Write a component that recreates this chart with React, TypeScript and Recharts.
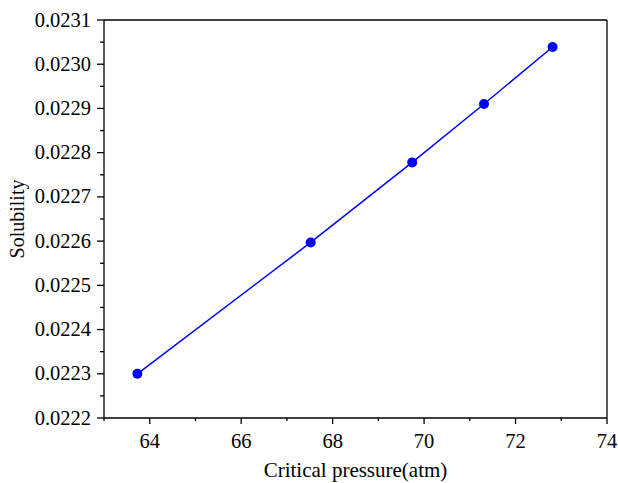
import {
  LineChart,
  Line,
  XAxis,
  YAxis,
  ReferenceLine,
} from 'recharts';

// critical pressure (atm) vs solubility
const pressure = [63.73, 67.52, 69.74, 71.31, 72.81];
const solubility = [0.0223, 0.022597, 0.022778, 0.02291, 0.023039];

const xTicks = [63, 64, 65, 66, 67, 68, 69, 70, 71, 72, 73, 74];
const xLabelTicks = [64, 66, 68, 70, 72, 74];
const yTicks = [
  0.0222, 0.02225, 0.0223, 0.02235, 0.0224, 0.02245, 0.0225, 0.02255, 0.0226, 0.02265,
  0.0227, 0.02275, 0.0228, 0.02285, 0.0229, 0.02295, 0.023, 0.02305, 0.0231,
];
const yLabelTicks = [
  '0.0222', '0.0223', '0.0224', '0.0225', '0.0226', '0.0227', '0.0228', '0.0229', '0.0230', '0.0231',
];

const data = pressure.map((p, i) => ({ p, s: solubility[i] }));

const FONT = "'Liberation Serif', 'Times New Roman', serif";

const XTick = (props: any) => {
  const { x, y, payload } = props;
  const major = xLabelTicks.includes(payload.value);
  return (
    <g>
      <line x1={x} x2={x} y1={y} y2={y + (major ? 6 : 3)} stroke='#000' strokeWidth={1.3} />
      {major && (
        <text x={x} y={y + 30} textAnchor='middle' fontSize={20.5} fontFamily={FONT} fill='#000'>
          {payload.value}
        </text>
      )}
    </g>
  );
};

const YTick = (props: any) => {
  const { x, y, payload } = props;
  const label = yLabelTicks.find((l) => Math.abs(parseFloat(l) - payload.value) < 1e-9);
  return (
    <g>
      <line x1={x} x2={x - (label ? 7 : 4)} y1={y} y2={y} stroke='#000' strokeWidth={1.3} />
      {label && (
        <text x={x - 13} y={y + 6.5} textAnchor='end' fontSize={20.5} fontFamily={FONT} fill='#000'>
          {label}
        </text>
      )}
    </g>
  );
};

const App = () => {
  return (
    <div style={{ position: 'absolute', left: 0, top: 0, background: '#fff' }}>
      <LineChart
        width={618}
        height={483}
        data={data}
        margin={{ top: 20, right: 11, left: 0, bottom: 0 }}
      >
        <XAxis
          dataKey='p'
          type='number'
          domain={[63, 74]}
          ticks={xTicks}
          interval={0}
          tick={<XTick />}
          tickLine={false}
          tickSize={0}
          tickMargin={0}
          axisLine={{ stroke: '#000', strokeWidth: 1.3 }}
          height={65}
          label={{
            value: 'Critical pressure(atm)',
            position: 'insideBottom',
            offset: 6,
            fontSize: 21,
            fontFamily: FONT,
            fill: '#000',
          }}
        />
        <YAxis
          dataKey='s'
          type='number'
          domain={[0.0222, 0.0231]}
          ticks={yTicks}
          interval={0}
          tick={<YTick />}
          tickLine={false}
          tickSize={0}
          tickMargin={0}
          axisLine={{ stroke: '#000', strokeWidth: 1.3 }}
          width={104}
          label={{
            value: 'Solubility',
            angle: -90,
            position: 'insideLeft',
            offset: 17,
            fontSize: 20,
            fontFamily: FONT,
            fill: '#000',
            style: { textAnchor: 'middle' },
          }}
        />
        <ReferenceLine y={0.0231} stroke='#000' strokeWidth={1.3} />
        <ReferenceLine x={74} stroke='#000' strokeWidth={1.3} />
        <Line
          type='linear'
          dataKey='s'
          stroke='#0000ff'
          strokeWidth={1.5}
          dot={{ r: 5, fill: '#0000ff', stroke: '#0000ff', strokeWidth: 0 }}
          activeDot={false}
          isAnimationActive={false}
        />
      </LineChart>
    </div>
  );
};

export default App;
